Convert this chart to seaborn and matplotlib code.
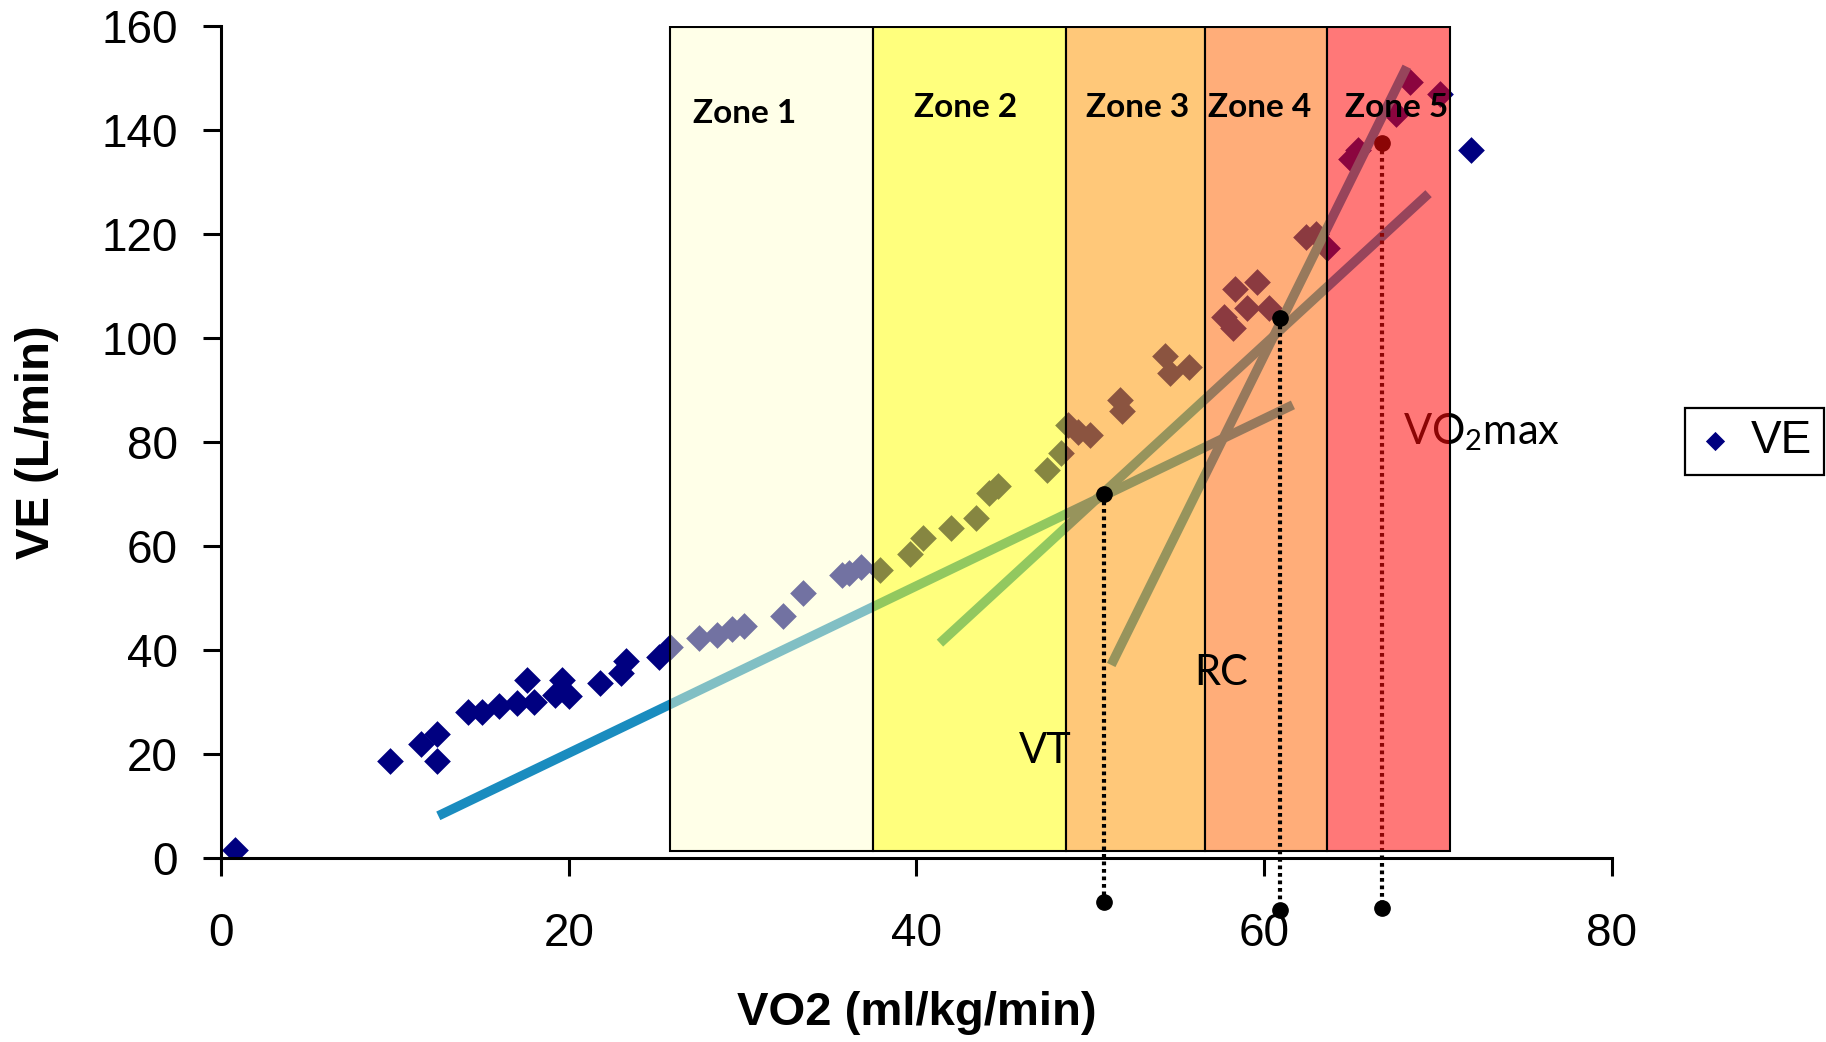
import matplotlib
matplotlib.use("Agg")
import matplotlib.pyplot as plt
import seaborn as sns
import pandas as pd
from matplotlib.patches import Rectangle

# VE against VO2 readings
vo2 = [0.8, 9.7, 11.5, 12.4, 12.4, 14.2, 15.0, 16.0, 17.0, 17.6, 18.0, 19.2, 19.6, 20.0,
       21.8, 23.0, 23.3, 25.2, 25.8, 27.5, 28.5, 29.4, 30.1, 32.3, 33.5, 35.7, 36.1, 36.8,
       37.9, 39.6, 40.4, 42.0, 43.4, 44.2, 44.7, 47.5, 48.3, 48.7, 49.3, 50.0, 51.7, 51.8,
       54.3, 54.6, 55.7, 57.7, 58.2, 58.3, 59.0, 59.6, 60.3, 62.4, 63.0, 63.6, 65.0, 65.4,
       67.6, 68.4, 70.1, 71.9]
ve = [1.5, 18.7, 22.0, 23.8, 18.7, 28.0, 28.0, 29.2, 29.8, 34.3, 29.9, 31.3, 34.2, 31.2,
      33.6, 35.6, 37.9, 38.7, 40.5, 42.3, 42.9, 44.1, 44.5, 46.6, 51.0, 54.4, 54.8, 56.0,
      55.4, 58.4, 61.5, 63.4, 65.3, 70.2, 71.6, 74.5, 77.8, 83.2, 81.8, 81.4, 88.0, 86.0,
      96.4, 93.3, 94.4, 104.0, 101.9, 109.4, 105.7, 110.7, 105.7, 119.3, 120.0, 117.2, 134.3, 136.1,
      143.0, 149.2, 146.9, 136.0]

# training zones
zone_names = ["Zone 1", "Zone 2", "Zone 3", "Zone 4", "Zone 5"]
zone_edges = [25.8, 37.5, 48.6, 56.6, 63.6, 70.7]
zone_colors = ["#FFFFCC", "#FFFF0A", "#FF9B0C", "#FF6A0C", "#FF0A0A"]
zone_alpha = [0.45, 0.53, 0.55, 0.55, 0.55]
zone_label_x = [30.1, 42.8, 52.7, 59.75, 67.6]
zone_label_y = [143.2, 144.3, 144.3, 144.3, 144.3]

# fitted segments
fit_x = [[12.5, 61.65], [41.35, 69.45], [51.2, 68.2]]
fit_y = [[8.1, 87.1], [41.3, 127.7], [37.1, 152.1]]

# thresholds
thr_names = ["VT", "RC", r"VO$\mathregular{_2}$max"]
thr_x = [50.8, 60.9, 66.8]
thr_y = [70.0, 103.8, 137.4]
thr_foot = [-8.5, -10.0, -9.7]
thr_label_x = [47.4, 57.5, 68.0]
thr_label_y = [20.6, 35.6, 81.9]
thr_ha = ["center", "center", "left"]

df = pd.DataFrame({"VO2": vo2, "VE": ve})

fig = plt.figure(figsize=(18.26, 10.42), dpi=100)
ax = fig.add_axes([0.121, 0.1766, 0.7618, 0.7988])

sns.scatterplot(data=df, x="VO2", y="VE", marker="D", color="#000080", s=185,
                linewidth=0, label="VE", ax=ax, zorder=2)

for fx, fy in zip(fit_x, fit_y):
    ax.plot(fx, fy, color="#1A8CBF", lw=6.8, solid_capstyle="butt", zorder=2)

# zones 1-4 sit under the threshold marks, zone 5 on top of them
for i, name in enumerate(zone_names):
    z = 5 if i == 4 else 3
    ax.add_patch(Rectangle((zone_edges[i], 1.3), zone_edges[i + 1] - zone_edges[i], 158.5,
                           facecolor=zone_colors[i], alpha=zone_alpha[i], zorder=z, lw=0))
    ax.add_patch(Rectangle((zone_edges[i], 1.3), zone_edges[i + 1] - zone_edges[i], 158.5,
                           facecolor="none", edgecolor="black", zorder=z, lw=1.5))
    ax.text(zone_label_x[i], zone_label_y[i], name, ha="center", va="center",
            fontsize=24, fontweight="bold", family="Lato", zorder=6)

for i in range(3):
    ax.plot([thr_x[i], thr_x[i]], [thr_y[i], thr_foot[i]], color="black", lw=3,
            ls=(0, (0.9, 0.9)), clip_on=False, zorder=4)
    ax.plot([thr_x[i], thr_x[i]], [thr_y[i], thr_foot[i]], "o", color="black", ms=11,
            clip_on=False, zorder=4)
    ax.text(thr_label_x[i], thr_label_y[i], thr_names[i], ha=thr_ha[i], va="center",
            fontsize=30, family="Lato", zorder=4)

ax.set_xlim(0, 80)
ax.set_ylim(0, 160)
ax.set_xticks([0, 20, 40, 60, 80])
ax.set_yticks(range(0, 161, 20))
ax.tick_params(direction="out", length=13, width=2.2, labelsize=33)
ax.tick_params(axis="x", pad=26)
ax.tick_params(axis="y", pad=18)
for lab in ax.get_xticklabels() + ax.get_yticklabels():
    lab.set_family("Liberation Sans")
for s in ["top", "right"]:
    ax.spines[s].set_visible(False)
for s in ["left", "bottom"]:
    ax.spines[s].set_linewidth(2.2)
    ax.spines[s].set_color("black")

ax.set_xlabel("VO2 (ml/kg/min)", fontsize=34, fontweight="bold", family="Liberation Sans",
              va="center", ha="center")
ax.set_ylabel("VE (L/min)", fontsize=34, fontweight="bold", family="Liberation Sans",
              va="center", ha="center")
ax.xaxis.set_label_coords(0.5, -0.186)
ax.yaxis.set_label_coords(-0.132, 0.5)

leg = ax.legend(loc="center", bbox_to_anchor=(0.9608, 0.5763), bbox_transform=fig.transFigure,
                fancybox=False, framealpha=1, edgecolor="black", markerscale=0.72,
                prop={"family": "Liberation Sans", "size": 33}, handlelength=0.8,
                handletextpad=0.4, borderpad=0.25, borderaxespad=0)
leg.get_frame().set_linewidth(1.6)

fig.savefig("out.png", dpi=100)
